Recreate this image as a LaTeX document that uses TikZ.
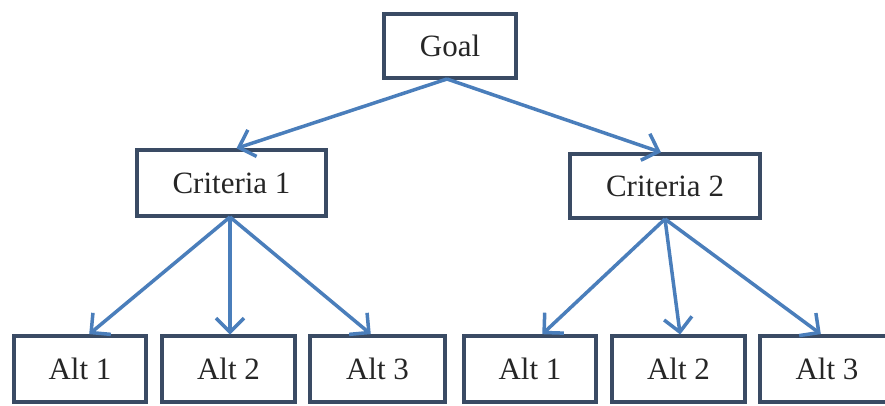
\documentclass[tikz,border=0pt]{standalone}
\usepackage{fontspec}
\setmainfont{Liberation Serif}
\usetikzlibrary{arrows.meta}
\definecolor{boxline}{HTML}{3A4B64}
\definecolor{arrowblue}{HTML}{4A7EBB}
\tikzset{
  box/.style={draw=boxline, line width=4pt, fill=white, rectangle, inner sep=0pt,
    minimum height=66pt, font=\fontsize{31}{36}\selectfont, text=black!85},
  link/.style={draw=arrowblue, line width=3.5pt,
    -{Straight Barb[length=14pt, width=28pt, line width=3.5pt]}, shorten >=-1pt}
}
\begin{document}
\begin{tikzpicture}[x=1pt,y=-1pt]
\useasboundingbox[fill=white] (0,0) rectangle (885,405);
\node[box, minimum width=132pt, minimum height=64pt] (goal) at (450,46) {Goal};
\node[box, minimum width=189pt] (c1) at (231.5,183) {Criteria 1};
\node[box, minimum width=190pt, minimum height=64pt] (c2) at (665,186) {Criteria 2};
\node[box, minimum width=132pt] (a11) at (80,368.5) {Alt 1};
\node[box, minimum width=133pt] (a12) at (228.5,368.5) {Alt 2};
\node[box, minimum width=135pt] (a13) at (377.5,368.5) {Alt 3};
\node[box, minimum width=132pt] (a21) at (530,368.5) {Alt 1};
\node[box, minimum width=133pt] (a22) at (678.5,368.5) {Alt 2};
\node[box, minimum width=134pt] (a23) at (827,368.5) {Alt 3};
\coordinate (g0) at ([xshift=-3pt,yshift=1pt]goal.south);
\coordinate (c10) at ([xshift=-1.5pt,yshift=1pt]c1.south);
\coordinate (c20) at ([xshift=0pt,yshift=1pt]c2.south);
\draw[link] (g0) -- ([xshift=6pt]c1.north);
\draw[link] (g0) -- ([xshift=-5pt]c2.north);
\draw[link] (c10) -- ([xshift=10pt]a11.north);
\draw[link] (c10) -- ([xshift=1.5pt]a12.north);
\draw[link] (c10) -- ([xshift=-7.5pt]a13.north);
\draw[link] (c20) -- ([xshift=13pt]a21.north);
\draw[link] (c20) -- ([xshift=1.5pt]a22.north);
\draw[link] (c20) -- ([xshift=-7pt]a23.north);
\end{tikzpicture}
\end{document}
